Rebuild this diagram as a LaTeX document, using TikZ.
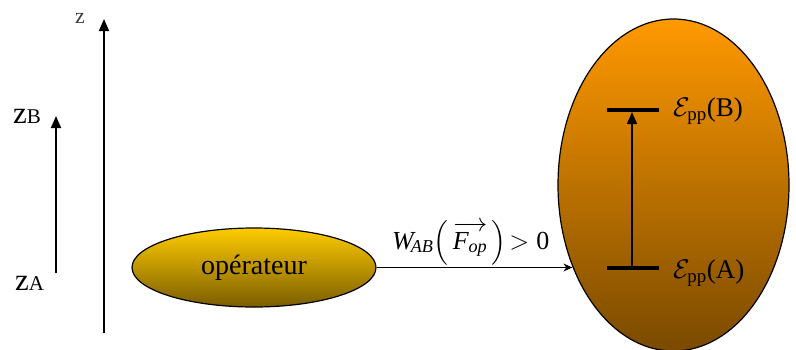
\documentclass[tikz,border=0pt]{standalone}
\usepackage{fix-cm}
\usepackage{amsmath}
\usepackage{fontspec}
\setmainfont{Liberation Serif}
\usetikzlibrary{shapes.geometric,arrows.meta}
\definecolor{opTop}{RGB}{255,204,0}
\definecolor{opBot}{RGB}{122,92,0}
\definecolor{sysTop}{RGB}{255,153,0}
\definecolor{sysBot}{RGB}{122,74,0}
\definecolor{zgray}{RGB}{60,60,70}
\tikzset{
  axisarrow/.style={line width=1.8pt,-{Triangle[length=12pt,width=10pt]}},
  levelbar/.style={line width=4.5pt},
  levelarrow/.style={line width=1.2pt,-{Triangle[length=12pt,width=10pt]}},
  connector/.style={line width=1.2pt,-{Stealth[length=9pt,width=8pt]}},
  lbl/.style={inner sep=0pt,anchor=base west},
}
\begin{document}
\begin{tikzpicture}[x=1pt,y=-1pt]
\useasboundingbox (0,0) rectangle (796,349);
% axes
\coordinate (zbot) at (104,333);
\coordinate (ztop) at (104,19);
\draw[axisarrow] (zbot) -- (ztop);
\node[lbl,text=zgray] (zlab) at (75,23) {\fontsize{22}{22}\selectfont z};
\coordinate (sbot) at (56,273);
\coordinate (stop) at (56,116);
\draw[axisarrow] (sbot) -- (stop);
\node[lbl] (zB) at (13,123) {\fontsize{31}{31}\selectfont z\fontsize{21}{21}\selectfont B};
\node[lbl] (zA) at (15,290) {\fontsize{31}{31}\selectfont z\fontsize{21}{21}\selectfont A};
% operator
\node[ellipse,draw=black,line width=1.2pt,top color=opTop,bottom color=opBot,
      minimum width=244pt,minimum height=79pt,inner sep=0pt] (op) at (254,267.5)
      {\fontsize{28}{28}\selectfont op\'erateur};
% system
\node[ellipse,draw=black,line width=1.2pt,top color=sysTop,bottom color=sysBot,
      minimum width=231pt,minimum height=332pt,inner sep=0pt] (sys) at (673.5,185) {};
% levels
\coordinate (Bl) at (607,110);
\coordinate (Br) at (659,110);
\coordinate (Al) at (607,268);
\coordinate (Ar) at (659,268);
\draw[levelbar] (Bl) -- (Br);
\draw[levelbar] (Al) -- (Ar);
\coordinate (Am) at (632,268);
\coordinate (Bm) at (632,112);
\draw[levelarrow] (Am) -- (Bm);
\node[lbl] (EB) at (673,116) {\fontsize{27}{27}\selectfont $\mathcal{E}_{\text{pp}}$(B)};
\node[lbl] (EA) at (673,278) {\fontsize{27}{27}\selectfont $\mathcal{E}_{\text{pp}}$(A)};
% connector
\draw[connector] (op.east) -- (op.east -| sys.219.6) coordinate (cend);
\node[lbl] (W) at (392,249) {\fontsize{26}{26}\selectfont $\textit{W}_{\!\textit{AB}}\!\left(\,\overrightarrow{\textit{F}_{\textit{op}}}\,\right)\!> \text{0}$};
\end{tikzpicture}
\end{document}
